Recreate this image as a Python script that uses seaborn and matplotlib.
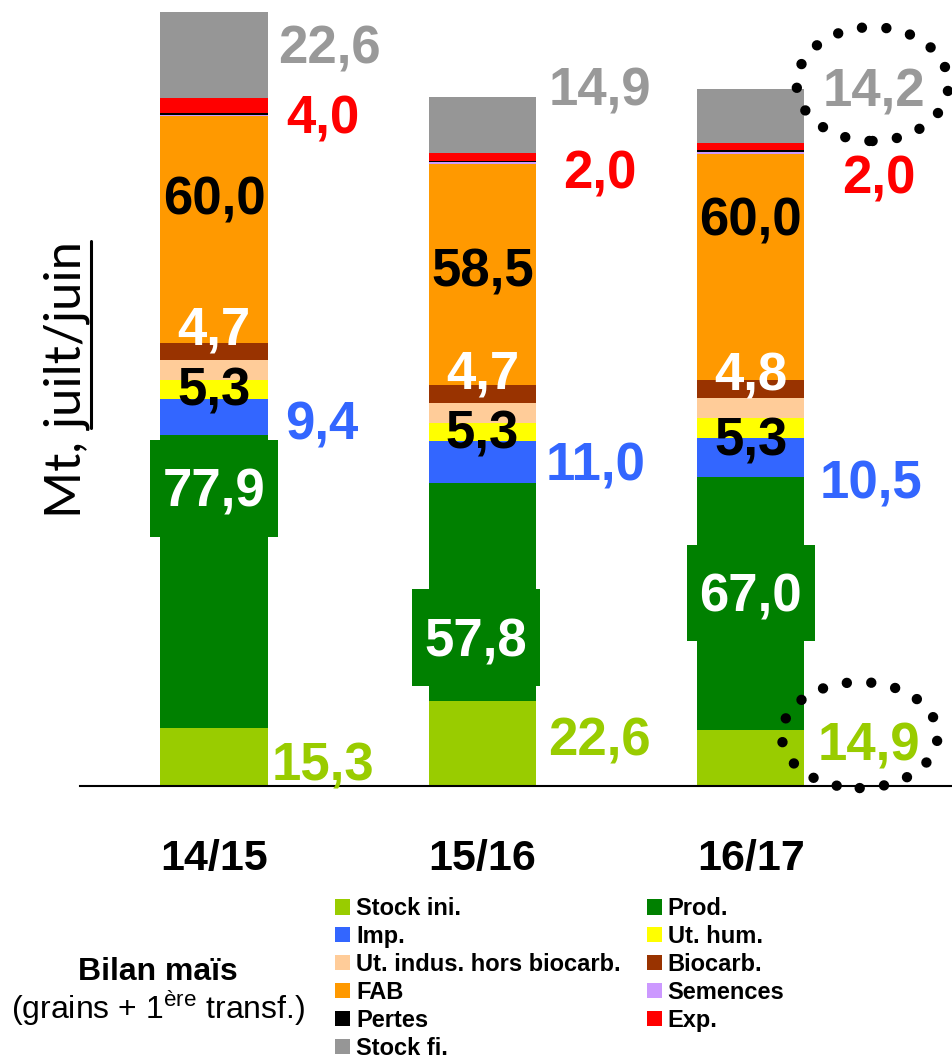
import pandas as pd
import matplotlib
matplotlib.use("Agg")
import matplotlib.pyplot as plt
import seaborn as sns
from matplotlib.patches import Patch, Ellipse, FancyBboxPatch
from matplotlib.lines import Line2D

# Bilan maïs, Mt (campagne juillet/juin)
campagnes = ["14/15", "15/16", "16/17"]

stock_ini = [15.3, 22.6, 14.9]
prod = [77.9, 57.8, 67.0]
imp = [9.4, 11.0, 10.5]
ut_hum = [5.0, 5.0, 5.1]
ut_indus = [5.3, 5.3, 5.3]
biocarb = [4.7, 4.7, 4.8]
fab = [60.0, 58.5, 60.0]
semences = [0.5, 0.5, 0.5]
pertes = [0.5, 0.5, 0.5]
exp = [4.0, 2.0, 2.0]
stock_fi = [22.6, 14.9, 14.2]

postes = ["Stock ini.", "Prod.", "Imp.", "Ut. hum.", "Ut. indus. hors biocarb.",
          "Biocarb.", "FAB", "Semences", "Pertes", "Exp.", "Stock fi."]
couleurs = ["#99CC00", "#008000", "#3366FF", "#FFFF00", "#FFCC99",
            "#993300", "#FF9900", "#CC99FF", "#000000", "#FF0000", "#969696"]

df = pd.DataFrame(dict(zip(postes, [stock_ini, prod, imp, ut_hum, ut_indus, biocarb,
                                    fab, semences, pertes, exp, stock_fi])),
                  index=campagnes)
cum = df.cumsum(axis=1)

# label placement (visual centre of the figures, in Mt)
y_stock_fi = [196.6, 185.4, 185.1]
y_exp = [178.0, 163.4, 162.1]
y_fab = [156.5, 137.4, 150.9]
y_bio = [122.0, 110.3, 109.8]
y_indus = [105.8, 94.4, 92.6]
y_imp = [96.8, 85.9, 81.2]
y_prod = [79.0, 39.3, 51.2]
y_stock_ini = [6.4, 13.0, 11.7]

sns.set_theme(style="white")
plt.rcParams["font.family"] = ["Liberation Sans", "DejaVu Sans"]
plt.rcParams["text.color"] = "black"
plt.rcParams["xtick.color"] = "black"
plt.rcParams["mathtext.fontset"] = "custom"
plt.rcParams["mathtext.rm"] = "Liberation Sans"

fig = plt.figure(figsize=(9.52, 10.61), dpi=100)
ax = fig.add_axes([80 / 952, 275 / 1061, 872 / 952, 786 / 1061])

# stacked bars: draw cumulative totals from the top layer down
for poste, coul in reversed(list(zip(postes, couleurs))):
    sns.barplot(x=campagnes, y=cum[poste].values, color=coul, width=0.4,
                saturation=1, errorbar=None, linewidth=0, ax=ax)

ax.set_xlim(-0.5, 2.75)
ax.set_ylim(0, 208.5)
sns.despine(ax=ax, left=True)
ax.spines["bottom"].set_color("black")
ax.spines["bottom"].set_linewidth(1.5)
ax.set_yticks([])
ax.set_ylabel("")
ax.tick_params(axis="x", length=0, pad=38, labelsize=31, labelcolor="black")
for lbl in ax.get_xticklabels():
    lbl.set_fontweight("bold")


def fr(v):
    return f"{v:.1f}".replace(".", ",")


def etiquette(x, y, txt, color, ha="center"):
    ax.annotate(txt, (x, y), xytext=(0, -13.3), textcoords="offset points",
                ha=ha, va="baseline", fontsize=38, fontweight="bold",
                color=color, annotation_clip=False)


dx_gris = [0.24, 0.246, 0.268]
dx_rouge = [0.268, 0.30, 0.339]
dx_bleu = [0.264, 0.235, 0.257]
dx_vert = [0.216, 0.246, 0.25]
dx_boite = [0.0, -0.026, 0.0]

for i in range(len(campagnes)):
    etiquette(i + dx_gris[i], y_stock_fi[i], fr(stock_fi[i]), "#999999", "left")
    etiquette(i + dx_rouge[i], y_exp[i], fr(exp[i]), "#FF0000", "left")
    etiquette(i, y_fab[i], fr(fab[i]), "black")
    etiquette(i, y_bio[i], fr(biocarb[i]), "white")
    etiquette(i, y_indus[i], fr(ut_indus[i]), "black")
    etiquette(i + dx_bleu[i], y_imp[i], fr(imp[i]), "#3366FF", "left")
    etiquette(i + dx_vert[i], y_stock_ini[i], fr(stock_ini[i]), "#99CC00", "left")
    xb = i + dx_boite[i]
    ax.add_patch(FancyBboxPatch((xb - 0.238, y_prod[i] - 12.85), 0.477, 25.7,
                                boxstyle="square,pad=0", fc="#008000", ec="none",
                                zorder=3))
    ann = ax.annotate(fr(prod[i]), (xb, y_prod[i]), xytext=(0, -13.3),
                      textcoords="offset points", ha="center", va="baseline",
                      fontsize=38, fontweight="bold", color="white")
    ann.set_zorder(4)

# dotted circles on 16/17 stocks
for centre, w, h in [((2.454, 186.2), 0.566, 30.2), ((2.406, 13.5), 0.581, 28.1)]:
    ax.add_patch(Ellipse(centre, w, h, fill=False, ec="black", lw=7.5,
                         linestyle=(0, (0.001, 2.35)), capstyle="round",
                         clip_on=False, zorder=5))

# legend, filled row by row
handles = [Patch(facecolor=c, label=p, linewidth=0) for p, c in zip(postes, couleurs)]
fig.legend(handles=handles[0::2] + handles[1::2], ncol=2, loc="upper left",
           bbox_to_anchor=(335 / 952, 1 - 897 / 1061), frameon=False,
           prop=dict(weight="bold", size=17), labelcolor="black",
           handlelength=0.64, handleheight=0.64,
           handletextpad=0.25, labelspacing=0.21, columnspacing=1.1,
           borderpad=0, borderaxespad=0)

fig.text(158 / 952, 1 - 972 / 1061, "Bilan maïs", ha="center", va="center",
         fontsize=23, fontweight="bold")
fig.text(158 / 952, 1 - 1008 / 1061, "(grains + 1$^{\\mathregular{ère}}$ transf.)",
         ha="center", va="center", fontsize=23)

# y label "Mt, juilt/juin" with underlined period
ykw = dict(rotation=90, rotation_mode="anchor", ha="left", va="baseline",
           fontsize=36.5, family=["Lato", "DejaVu Sans"])
x0, y0 = 80 / 952, 1 - 518 / 1061
t_full = fig.text(x0, y0, "Mt, juilt/juin", **ykw)
t_per = fig.text(x0, y0, "juilt/juin", alpha=0, **ykw)
fig.canvas.draw()
r = fig.canvas.get_renderer()
bb_full = t_full.get_window_extent(r)
bb_per = t_per.get_window_extent(r)
W, H = fig.bbox.width, fig.bbox.height
y_top = bb_full.y1
y_bas = y_top - bb_per.height
fig.add_artist(Line2D([91 / W, 91 / W], [y_bas / H, y_top / H], color="black", lw=2.2,
                      transform=fig.transFigure))

fig.savefig("out.png", dpi=100)
